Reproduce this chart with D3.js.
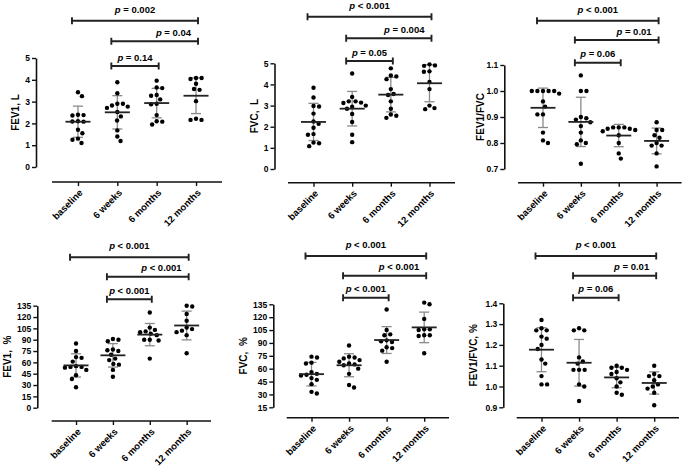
<!DOCTYPE html>
<html><head><meta charset="utf-8">
<script src="https://cdn.jsdelivr.net/npm/d3@7"></script>
<style>
body{margin:0;background:#fff}
svg{display:block}
text{font-family:"Liberation Sans",Arial,Helvetica,sans-serif;font-weight:bold;fill:#000;white-space:pre}
</style>
</head><body><svg id="c" width="685" height="467"></svg>
<script>
const categories = ["baseline", "6 weeks", "6 months", "12 months"];
const comparisons = [[0, 3], [1, 3], [1, 2]];

// FEV1, L
const fev1L = [
  [3.43, 3.25, 2.40, 2.36, 2.38, 2.10, 2.09, 2.08, 1.71, 1.55, 1.30, 1.25, 1.10],
  [3.89, 3.38, 2.90, 2.77, 2.82, 2.90, 2.71, 2.52, 2.32, 2.13, 1.68, 1.40, 1.19],
  [3.96, 3.65, 3.62, 3.30, 3.27, 3.10, 2.90, 2.88, 2.38, 2.10, 2.08, 1.95],
  [4.08, 4.04, 4.08, 3.82, 3.58, 3.54, 3.02, 2.16, 2.21, 2.16]
];
// FVC, L
const fvcL = [
  [3.84, 3.38, 2.96, 2.98, 2.62, 2.25, 2.14, 1.95, 1.65, 1.62, 1.25, 1.22, 1.08],
  [4.52, 3.41, 3.20, 3.12, 3.14, 3.20, 3.00, 2.95, 2.85, 2.60, 2.22, 1.62, 1.27],
  [4.76, 4.42, 4.38, 4.25, 3.78, 3.55, 3.50, 3.20, 2.85, 2.58, 2.52, 2.42],
  [4.95, 4.90, 4.88, 4.62, 4.60, 4.12, 3.78, 3.00, 2.88, 2.83]
];
// FEV1/FVC
const ratio = [
  [1.00, 1.00, 1.00, 1.00, 1.00, 0.99, 0.96, 0.94, 0.91, 0.91, 0.84, 0.80, 0.81],
  [1.06, 1.00, 1.00, 0.90, 0.895, 0.89, 0.88, 0.865, 0.84, 0.81, 0.80, 0.795, 0.72],
  [0.86, 0.86, 0.86, 0.855, 0.855, 0.85, 0.845, 0.83, 0.80, 0.76, 0.74],
  [0.88, 0.85, 0.85, 0.82, 0.83, 0.79, 0.80, 0.79, 0.76, 0.71]
];
// FEV1, %
const fev1Pct = [
  [85, 75, 67, 66, 61, 55, 54, 54, 53, 50, 43, 38, 27],
  [91, 90, 88, 77, 76, 75, 70, 65, 63, 58, 57, 50, 41],
  [126, 106, 103, 101, 100, 98, 96, 90, 90, 89, 65],
  [135, 134, 124, 115, 106, 104, 102, 100, 96, 72]
];
// FVC, %
const fvcPct = [
  [74, 73, 67, 66, 56, 54, 53, 52, 49, 47, 42, 33, 31],
  [87, 74, 73, 72, 70, 68, 66, 65, 64, 60, 54, 41, 38],
  [129, 105, 100, 99, 93, 92, 91, 85, 84, 81, 68],
  [137, 135, 118, 106, 106, 105, 99, 99, 98, 78]
];
// FEV1/FVC, %
const ratioPct = [
  [1.32, 1.28, 1.27, 1.27, 1.24, 1.23, 1.20, 1.18, 1.13, 1.11, 1.05, 1.01, 1.01],
  [1.28, 1.27, 1.27, 1.14, 1.12, 1.11, 1.08, 1.08, 1.08, 1.01, 1.00, 0.93],
  [1.10, 1.09, 1.09, 1.08, 1.07, 1.06, 1.04, 1.02, 1.00, 0.97, 0.96],
  [1.10, 1.06, 1.05, 1.05, 1.03, 1.01, 1.00, 0.99, 0.97, 0.91]
];

const ticksFev1L = [0, 1, 2, 3, 4, 5];
const ticksFvcL = [0, 1, 2, 3, 4, 5];
const ticksRatio = [0.7, 0.8, 0.9, 1.0, 1.1];
const ticksFev1Pct = [0, 15, 30, 45, 60, 75, 90, 105, 120, 135];
const ticksFvcPct = [15, 30, 45, 60, 75, 90, 105, 120, 135];
const ticksRatioPct = [0.9, 1.0, 1.1, 1.2, 1.3, 1.4];

const pFev1L = ["= 0.002", "= 0.04", "= 0.14"];
const pFvcL = ["< 0.001", "= 0.004", "= 0.05"];
const pRatio = ["< 0.001", "= 0.01", "= 0.06"];
const pFev1Pct = ["< 0.001", "< 0.001", "< 0.001"];
const pFvcPct = ["< 0.001", "< 0.001", "< 0.001"];
const pRatioPct = ["< 0.001", "= 0.01", "= 0.06"];

const titles = ["FEV1, L", "FVC,  L", "FEV1/FVC", "FEV1,  %", "FVC,  %", "FEV1/FVC, %"];

// layout (pixel geometry of each panel)
const panels = [
  {data: fev1L, ticks: ticksFev1L, fmt: d3.format("d"), p: pFev1L, title: titles[0],
   ax: 36, yTop: 58, yBot: 167, x0: 52, x1: 222, xAxisY: 182, br: [20.7, 41.3, 66], tOff: 21},
  {data: fvcL, ticks: ticksFvcL, fmt: d3.format("d"), p: pFvcL, title: titles[1],
   ax: 274.5, yTop: 63.3, yBot: 169, x0: 288, x1: 455, xAxisY: 182.7, br: [16.7, 38.3, 61], tOff: 20},
  {data: ratio, ticks: ticksRatio, fmt: d3.format(".1f"), p: pRatio, title: titles[2],
   ax: 504.3, yTop: 65, yBot: 169, x0: 518, x1: 681.6, xAxisY: 182.7, br: [20.7, 40, 62.7], tOff: 24},
  {data: fev1Pct, ticks: ticksFev1Pct, fmt: d3.format("d"), p: pFev1Pct, title: titles[3],
   ax: 37.3, yTop: 305.7, yBot: 407.7, x0: 51.7, x1: 211, xAxisY: 421, br: [257.3, 276.7, 299.3], tOff: 30},
  {data: fvcPct, ticks: ticksFvcPct, fmt: d3.format("d"), p: pFvcPct, title: titles[4],
   ax: 273.3, yTop: 304.3, yBot: 407.3, x0: 286.7, x1: 449, xAxisY: 417.7, br: [256, 275.7, 297.7], tOff: 30},
  {data: ratioPct, ticks: ticksRatioPct, fmt: d3.format(".1f"), p: pRatioPct, title: titles[5],
   ax: 503.3, yTop: 303.3, yBot: 407.3, x0: 516.7, x1: 679, xAxisY: 417.7, br: [256, 275.7, 297.7], tOff: 30}
];

const svg = d3.select("#c");
const INK = "#111";
const DOT_R = 2.2, SWARM_D = 5.6;

function swarm(vals, y) {
  const pts = vals.map(v => ({v, py: y(v), dx: 0}));
  const order = pts.slice().sort((a, b) => a.py - b.py);
  const placed = [];
  order.forEach(p => {
    const cands = [0];
    placed.forEach(q => {
      const dy = p.py - q.py;
      if (Math.abs(dy) < SWARM_D) {
        const dx = Math.sqrt(SWARM_D * SWARM_D - dy * dy);
        cands.push(q.dx + dx, q.dx - dx);
      }
    });
    const near = placed.filter(q => Math.abs(q.py - p.py) < 2 * SWARM_D);
    const bal = d3.sum(near, q => q.dx);
    cands.sort((a, b) => (Math.abs(a) - Math.abs(b)) || (bal > 0 ? a - b : b - a));
    let best = 0;
    for (const c of cands) {
      if (placed.every(q => Math.hypot(c - q.dx, p.py - q.py) >= SWARM_D - 1e-6)) { best = c; break; }
    }
    p.dx = best;
    placed.push(p);
  });
  return pts;
}

panels.forEach(P => {
  const g = svg.append("g");
  const y = d3.scaleLinear().domain(d3.extent(P.ticks)).range([P.yBot, P.yTop]);
  const x = d3.scalePoint().domain(categories).range([P.x0, P.x1]).padding(0.66);

  // y axis
  const ya = g.append("g").attr("transform", `translate(${P.ax},0)`)
    .call(d3.axisLeft(y).tickValues(P.ticks).tickFormat(P.fmt).tickSize(4).tickPadding(2).tickSizeOuter(0));
  ya.select(".domain").attr("stroke", INK).attr("stroke-width", 1.6);
  ya.selectAll(".tick line").attr("stroke", INK).attr("stroke-width", 1.4);
  ya.selectAll(".tick text").attr("font-size", 8.5).attr("font-family", null).attr("fill", INK);

  // x axis
  const xa = g.append("g").attr("transform", `translate(0,${P.xAxisY})`)
    .call(d3.axisBottom(x).tickSize(4).tickSizeOuter(0).tickFormat(""));
  xa.select(".domain").attr("stroke", INK).attr("stroke-width", 1.6).attr("d", `M${P.x0},0H${P.x1}`);
  xa.selectAll(".tick line").attr("stroke", INK).attr("stroke-width", 1.4);
  g.selectAll(".cat").data(categories).join("text")
    .attr("class", "cat")
    .attr("font-size", 9.5)
    .attr("text-anchor", "end")
    .attr("transform", d => `translate(${x(d) + 3},${P.xAxisY + 9}) rotate(-45)`)
    .attr("dy", "0.35em")
    .text(d => d);

  // y title
  g.append("text")
    .attr("font-size", 10)
    .attr("text-anchor", "middle")
    .attr("transform", `translate(${P.ax - P.tOff},${(P.yTop + P.yBot) / 2}) rotate(-90)`)
    .attr("dy", "0.35em")
    .text(P.title);

  // groups
  P.data.forEach((vals, i) => {
    const cx = x(categories[i]);
    const m = d3.mean(vals), sd = d3.deviation(vals);
    g.append("line").attr("x1", cx).attr("x2", cx).attr("y1", y(m + sd)).attr("y2", y(m - sd))
      .attr("stroke", "#8a8a8a").attr("stroke-width", 1.3);
    [m + sd, m - sd].forEach(v => {
      g.append("line").attr("x1", cx - 5).attr("x2", cx + 5).attr("y1", y(v)).attr("y2", y(v))
        .attr("stroke", "#8a8a8a").attr("stroke-width", 1.3);
    });
    const pts = swarm(vals, y);
    g.selectAll(null).data(pts).join("circle")
      .attr("cx", d => cx + d.dx).attr("cy", d => d.py).attr("r", DOT_R).attr("fill", "#000");
    g.append("line").attr("x1", cx - 12.5).attr("x2", cx + 12.5).attr("y1", y(m)).attr("y2", y(m))
      .attr("stroke", "#222").attr("stroke-width", 1.8);
  });

  // significance brackets
  comparisons.forEach(([a, b], k) => {
    const xl = x(categories[a]) - 6, xr = x(categories[b]) + 2, by = P.br[k];
    g.append("path")
      .attr("d", `M${xl},${by - 3.5}V${by + 3.5}M${xl},${by}H${xr}M${xr},${by - 3.5}V${by + 3.5}`)
      .attr("stroke", "#222").attr("stroke-width", 1.9).attr("fill", "none");
    const t = g.append("text").attr("font-size", 9.5)
      .attr("y", by - (k === 0 ? 8 : 5.5));
    if (k === 1) t.attr("x", xr - 7).attr("text-anchor", "end");
    else t.attr("x", (xl + xr) / 2).attr("text-anchor", "middle");
    t.append("tspan").attr("font-style", "italic").text("p");
    t.append("tspan").text(" " + P.p[k]);
  });
});
</script>
</body></html>
